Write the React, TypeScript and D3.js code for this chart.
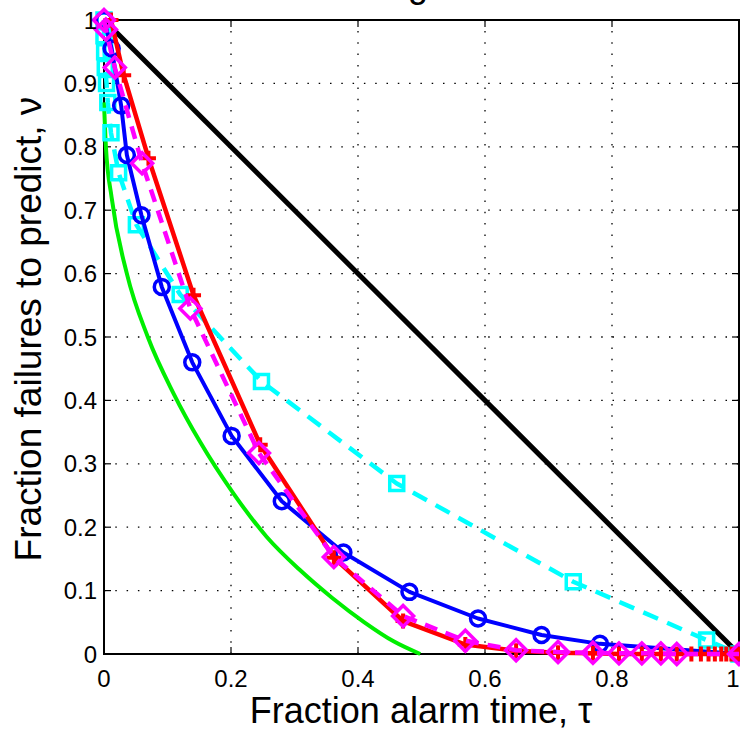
import React from 'react';
import * as d3 from 'd3';

const titleText = 'Testing';
const xLabel = 'Fraction alarm time, τ';
const yLabel = 'Fraction failures to predict, ν';

const xTicks = [0, 0.2, 0.4, 0.6, 0.8, 1];
const xTickLabels = ['0', '0.2', '0.4', '0.6', '0.8', '1'];
const yTicks = [0, 0.1, 0.2, 0.3, 0.4, 0.5, 0.6, 0.7, 0.8, 0.9, 1];
const yTickLabels = ['0', '0.1', '0.2', '0.3', '0.4', '0.5', '0.6', '0.7', '0.8', '0.9', '1'];

// random-guess diagonal
const blackT = [0, 1];
const blackV = [1, 0];

// optimal (green) curve
const greenT = [0, 0.003, 0.012, 0.036, 0.069, 0.11, 0.151, 0.204, 0.256, 0.309, 0.36, 0.41, 0.456, 0.498];
const greenV = [0.87, 0.8, 0.72, 0.6, 0.5, 0.41, 0.335, 0.253, 0.185, 0.132, 0.088, 0.05, 0.02, 0];

// cyan dashed, squares
const cyanT = [0, 0, 0.001, 0.002, 0.004, 0.006, 0.011, 0.023, 0.051, 0.12, 0.248, 0.461, 0.739, 0.949, 1];
const cyanV = [1, 0.975, 0.95, 0.925, 0.9, 0.87, 0.822, 0.759, 0.677, 0.567, 0.43, 0.269, 0.114, 0.022, 0];

// blue solid, circles
const blueT = [0, 0.012, 0.027, 0.036, 0.059, 0.091, 0.139, 0.201, 0.28, 0.377, 0.481, 0.589, 0.689, 0.781, 1];
const blueV = [1, 0.955, 0.865, 0.787, 0.692, 0.579, 0.46, 0.344, 0.241, 0.16, 0.098, 0.056, 0.03, 0.016, 0];

// red solid, plus
const redT = [0.011, 0.031, 0.07, 0.141, 0.246, 0.362, 0.471, 0.569, 0.649, 0.715, 0.77, 0.811, 0.847, 0.877, 0.902, 0.925, 0.94, 0.952, 0.962, 0.972, 0.98, 0.988, 0.995, 1];
const redV = [1, 0.913, 0.782, 0.566, 0.33, 0.152, 0.052, 0.015, 0.005, 0.002, 0.001, 0, 0, 0, 0, 0, 0, 0, 0, 0, 0, 0, 0, 0];

// magenta dashed, diamonds
const magT = [0, 0.003, 0.017, 0.06, 0.136, 0.244, 0.362, 0.471, 0.569, 0.649, 0.715, 0.77, 0.811, 0.847, 0.877, 0.902, 1];
const magV = [1, 0.985, 0.925, 0.774, 0.545, 0.317, 0.153, 0.06, 0.021, 0.006, 0.003, 0.002, 0.001, 0.001, 0.001, 0, 0];

const W = 740;
const H = 731;
const FONT = '"Liberation Sans", Arial, Helvetica, sans-serif';

type Marker = 'none' | 'circle' | 'square' | 'diamond' | 'plus';

function markerPath(m: Marker, cx: number, cy: number): string {
  if (m === 'circle') {
    const r = 7.5;
    return `M${cx - r},${cy}a${r},${r} 0 1,0 ${2 * r},0a${r},${r} 0 1,0 ${-2 * r},0Z`;
  }
  if (m === 'square') {
    const s = 7;
    return `M${cx - s},${cy - s}H${cx + s}V${cy + s}H${cx - s}Z`;
  }
  if (m === 'diamond') {
    const s = 10.5;
    return `M${cx},${cy - s}L${cx + s},${cy}L${cx},${cy + s}L${cx - s},${cy}Z`;
  }
  if (m === 'plus') {
    const s = 7.5;
    return `M${cx - s},${cy}H${cx + s}M${cx},${cy - s}V${cy + s}`;
  }
  return '';
}

export default function App() {
  const x = d3.scaleLinear().domain([0, 1]).range([104, 739]);
  const y = d3.scaleLinear().domain([0, 1]).range([654, 20]);

  const series = [
    { t: blackT, v: blackV, color: '#000000', width: 5, dash: null as string | null, marker: 'none' as Marker, curve: false },
    { t: greenT, v: greenV, color: '#00ee00', width: 4, dash: null, marker: 'none' as Marker, curve: true },
    { t: cyanT, v: cyanV, color: '#00ffff', width: 4.5, dash: '16,10', marker: 'square' as Marker, curve: false },
    { t: blueT, v: blueV, color: '#0000ff', width: 4, dash: null, marker: 'circle' as Marker, curve: false },
    { t: redT, v: redV, color: '#ff0000', width: 4.5, dash: null, marker: 'plus' as Marker, curve: false },
    { t: magT, v: magV, color: '#ff00ff', width: 4.5, dash: '13,9', marker: 'diamond' as Marker, curve: false },
  ];

  const gridX = xTicks.filter((d) => d > 0 && d < 1);
  const gridY = yTicks.filter((d) => d > 0 && d < 1);
  const lastX = xTicks.length - 1;

  return (
    <svg
      width={W}
      height={H}
      style={{ position: 'absolute', left: 0, top: 0, background: '#fff' }}
      fontFamily={FONT}
    >
      <rect x={0} y={0} width={W} height={H} fill="#fff" />
      {/* title (mostly out of view, as in the reference) */}
      <text x={428} y={-3.5} fontSize={36} textAnchor="end" fill="#000">
        {titleText}
      </text>
      {/* grid */}
      <g stroke="#000" strokeWidth={1.3} strokeDasharray="1.5,9.8">
        {gridX.map((d, i) => (
          <line key={'gx' + i} x1={x(d)} x2={x(d)} y1={y(0)} y2={y(1)} />
        ))}
        {gridY.map((d, i) => (
          <line key={'gy' + i} x1={x(0)} x2={x(1)} y1={y(d)} y2={y(d)} />
        ))}
      </g>
      {/* ticks */}
      <g stroke="#000" strokeWidth={1.2}>
        {xTicks.map((d, i) => (
          <g key={'xt' + i}>
            <line x1={x(d)} x2={x(d)} y1={y(0)} y2={y(0) - 7} />
            <line x1={x(d)} x2={x(d)} y1={y(1)} y2={y(1) + 7} />
          </g>
        ))}
        {yTicks.map((d, i) => (
          <g key={'yt' + i}>
            <line x1={x(0)} x2={x(0) + 7} y1={y(d)} y2={y(d)} />
            <line x1={x(1)} x2={x(1) - 7} y1={y(d)} y2={y(d)} />
          </g>
        ))}
      </g>
      {/* axes box */}
      <rect
        x={x(0)}
        y={y(1)}
        width={x(1) - x(0)}
        height={y(0) - y(1)}
        fill="none"
        stroke="#000"
        strokeWidth={2}
      />
      {/* series */}
      {series.map((s, si) => {
        const pts: [number, number][] = s.t.map((t, i) => [x(t), y(s.v[i])]);
        const gen = d3.line<[number, number]>().x((p) => p[0]).y((p) => p[1]);
        if (s.curve) gen.curve(d3.curveMonotoneX);
        const d = gen(pts) || '';
        return (
          <g key={'s' + si}>
            <path
              d={d}
              fill="none"
              stroke={s.color}
              strokeWidth={s.width}
              strokeDasharray={s.dash || undefined}
              strokeLinejoin="round"
            />
            {s.marker !== 'none' &&
              pts.map((p, i) => (
                <path
                  key={'m' + i}
                  d={markerPath(s.marker, p[0], p[1])}
                  fill="none"
                  stroke={s.color}
                  strokeWidth={s.marker === 'plus' ? 4 : 3.5}
                />
              ))}
          </g>
        );
      })}
      {/* tick labels */}
      <g fontSize={24} fill="#000">
        {xTicks.map((d, i) => (
          <text
            key={'xl' + i}
            x={i === lastX ? W - 0.5 : x(d)}
            y={687}
            textAnchor={i === lastX ? 'end' : 'middle'}
          >
            {xTickLabels[i]}
          </text>
        ))}
        {yTicks.map((d, i) => (
          <text key={'yl' + i} x={97} y={y(d) + 8.5} textAnchor="end">
            {yTickLabels[i]}
          </text>
        ))}
      </g>
      {/* axis labels */}
      <text x={421} y={723} fontSize={36} textAnchor="middle" fill="#000">
        {xLabel}
      </text>
      <text
        transform={`translate(41,${(y(0) + y(1)) / 2 - 8}) rotate(-90)`}
        fontSize={37}
        textAnchor="middle"
        fill="#000"
      >
        {yLabel}
      </text>
    </svg>
  );
}
